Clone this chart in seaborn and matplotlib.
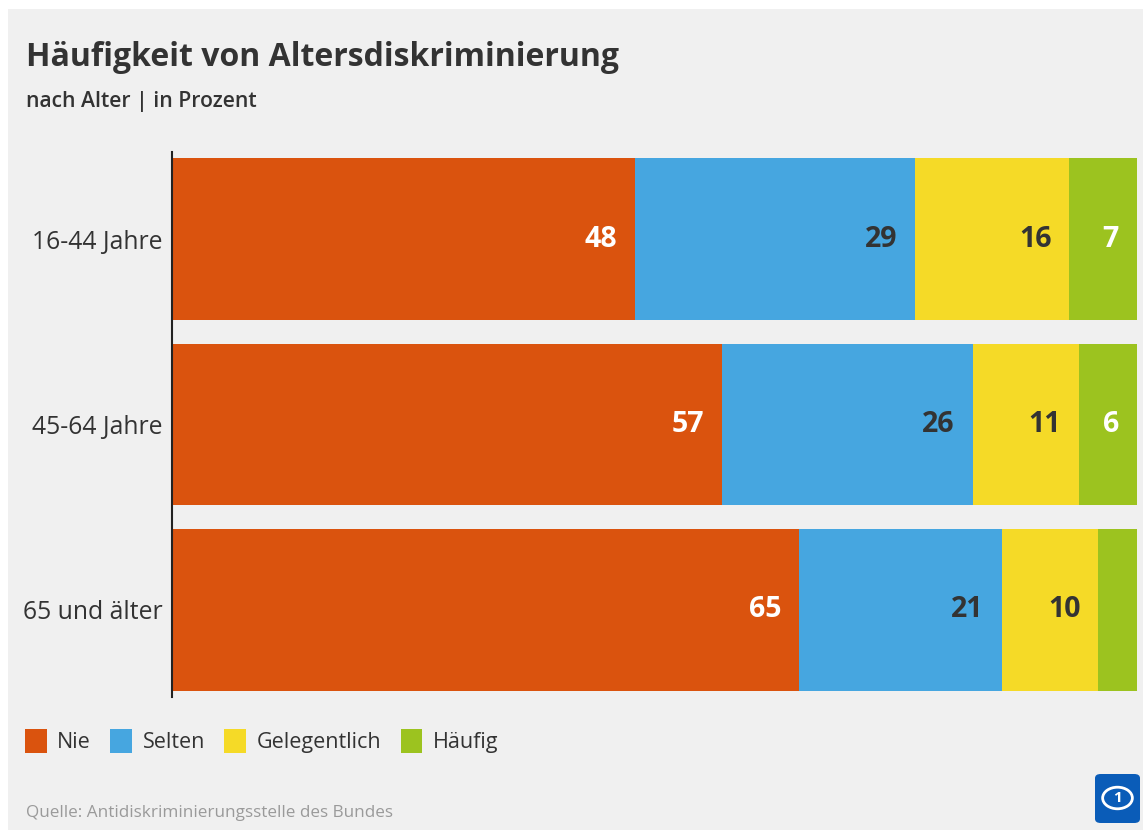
import matplotlib.pyplot as plt
import seaborn as sns
import pandas as pd
from matplotlib.patches import Patch, Rectangle, FancyBboxPatch, Circle

# data
groups = ["16-44 Jahre", "45-64 Jahre", "65 und älter"]
categories = ["Nie", "Selten", "Gelegentlich", "Häufig"]
nie = [48, 57, 65]
selten = [29, 26, 21]
gelegentlich = [16, 11, 10]
haeufig = [7, 6, 4]
colors = ["#da530e", "#46a6e0", "#f5da27", "#9cc31f"]
label_colors = ["white", "#333333", "#333333", "white"]

series = [nie, selten, gelegentlich, haeufig]

sns.set_style("white")
plt.rcParams["font.family"] = ["Open Sans", "DejaVu Sans"]

fig = plt.figure(figsize=(11.43, 8.30), dpi=100)
fig.patch.set_facecolor("white")
fig.patches.append(Rectangle((8 / 1143, 0), 1 - 8 / 1143, 1 - 9 / 830,
                             transform=fig.transFigure, facecolor="#f0f0f0",
                             edgecolor="none", zorder=-10))

ax = fig.add_axes([172 / 1143, 1 - 697 / 830, 965 / 1143, 545 / 830])
ax.set_facecolor("none")

# cumulative sums for stacking
rows = []
for i, g in enumerate(groups):
    cum = 0
    for cat, vals in zip(categories, series):
        cum += vals[i]
        rows.append({"group": g, "cat": cat, "value": vals[i], "end": cum})
df = pd.DataFrame(rows)

# draw from the outermost segment inwards so each overlays the previous
for cat, col in reversed(list(zip(categories, colors))):
    sub = df[df["cat"] == cat]
    sns.barplot(data=sub, x="end", y="group", order=groups, orient="h",
                color=col, width=0.87, saturation=1, edgecolor="none",
                linewidth=0, ax=ax)

for cat, lc in zip(categories, label_colors):
    sub = df[df["cat"] == cat]
    for i, g in enumerate(groups):
        r = sub[sub["group"] == g].iloc[0]
        if r["value"] < 5:
            continue
        ax.annotate(str(r["value"]), xy=(r["end"], i), xytext=(-13, 0),
                    textcoords="offset points", ha="right", va="center",
                    fontsize=20.5, fontweight="bold", color=lc)

ax.set_xlim(0, 100)
ax.set_ylim(2.47, -0.47)
ax.set_xlabel("")
ax.set_ylabel("")
ax.set_xticks([])
for s in ["top", "right", "bottom"]:
    ax.spines[s].set_visible(False)
ax.spines["left"].set_color("#222222")
ax.spines["left"].set_linewidth(1.5)
ax.tick_params(axis="y", length=0, pad=7, labelsize=17.8, labelcolor="#333333")

fig.text(26 / 1143, 1 - 58 / 830, "Häufigkeit von Altersdiskriminierung",
         fontsize=23, fontweight="bold", color="#333333", va="center")
fig.text(26 / 1143, 1 - 101 / 830, "nach Alter | in Prozent",
         fontsize=15.2, fontweight="semibold", color="#333333", va="center")

handles = [Patch(facecolor=c, edgecolor="none", label=l) for c, l in zip(colors, categories)]
fig.legend(handles=handles, loc="center left", bbox_to_anchor=(25 / 1143, 1 - 741 / 830),
           ncol=4, frameon=False, fontsize=15.5, handlelength=1.0, handleheight=1.35,
           handletextpad=0.5, columnspacing=0.9, borderpad=0, borderaxespad=0,
           labelcolor="#333333")

fig.text(26 / 1143, 1 - 813 / 830, "Quelle: Antidiskriminierungsstelle des Bundes",
         fontsize=12.3, color="#9a9a9a", va="center")

# small broadcaster logo
lx, ly, lw, lh = 1095 / 1143, 1 - 823 / 830, 45 / 1143, 49 / 830
fig.patches.append(FancyBboxPatch((lx, ly), lw, lh, boxstyle="round,pad=0,rounding_size=0.005",
                                  transform=fig.transFigure, facecolor="#0a5cb8",
                                  edgecolor="none"))
fig.patches.append(Circle((1117.5 / 1143, 1 - 798 / 830), 0.013, transform=fig.transFigure,
                          facecolor="none", edgecolor="white", linewidth=2))
fig.text(1117.5 / 1143, 1 - 798 / 830, "1", fontsize=11, fontweight="bold",
         color="white", ha="center", va="center")

fig.savefig("out.png", dpi=100, facecolor=fig.get_facecolor())
